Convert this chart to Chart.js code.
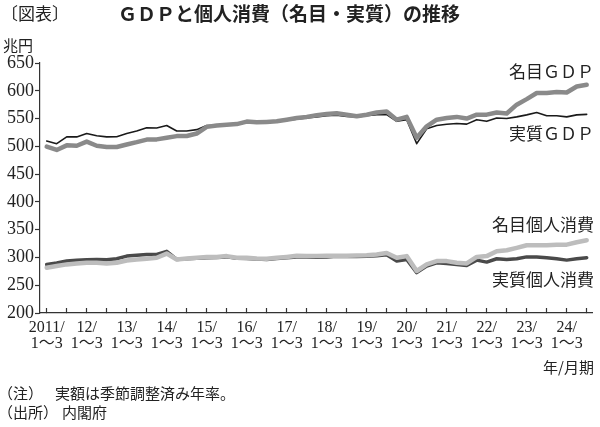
<!DOCTYPE html>
<html>
<head>
<meta charset="utf-8">
<script src="https://cdn.jsdelivr.net/npm/chart.js@4"></script>
<style>
  body { margin: 0; background: #fff; }
  canvas { display: block; }
</style>
</head>
<body>
<canvas id="gdp-chart" width="600" height="427"></canvas>
<script>
// 2011年1~3月期 ～ 2024年7~9月期 (四半期, 兆円, 季節調整済み年率)
var years = ["2011/", "12/", "13/", "14/", "15/", "16/", "17/", "18/", "19/", "20/", "21/", "22/", "23/", "24/"];
var quarterLabel = "1\u301C3";

var nominalGdp = [499.5, 493.5, 501.8, 501, 508.5, 501, 498.8, 498.8, 503.3, 507.5, 512.2, 512.5,
  515.3, 518.4, 518.6, 523, 535, 537.5, 539, 540, 544.6, 543.3, 544, 545, 548, 551,
  553, 556, 558, 559.5, 557, 554, 557, 561, 562.5, 548, 553, 515.5, 536, 548,
  551, 553, 550, 557, 557, 561, 559, 575, 585, 596, 596, 597.6, 597, 607.7, 610.7];

var realGdp = [509.5, 504.8, 517, 517, 523, 519, 517, 517.3, 523, 527.5, 533.3, 533,
  537.5, 527.5, 527.5, 530, 537.5, 538, 538.5, 539, 543, 542, 543, 544, 547, 549,
  551, 553, 555, 556, 554, 553, 555, 557, 557, 545, 548, 504.8, 531.6, 537.5,
  539.8, 541, 540, 548, 545, 551, 550, 553, 556.6, 561, 555, 555, 553, 556.6, 557.6];

var nominalCons = [281.6, 284.5, 287.5, 289, 290.5, 290.5, 289.3, 290.5, 294.6, 296.4, 297.6, 299.4,
  307, 296.4, 298, 299.4, 300.6, 301, 302.4, 299.4, 299.4, 298, 297.6, 299.4, 301, 303,
  302.4, 302.4, 303, 303, 303, 303.5, 304, 305.4, 308, 299.4, 302.4, 275.6, 287.5, 293.4,
  293.4, 290.5, 289.3, 301, 302.4, 311, 313, 317.3, 322, 322, 322, 323, 323, 327.4, 331];

var realCons = [287.5, 290, 293.5, 295, 296, 296.5, 296, 297.6, 302.4, 304, 305.4, 305.4,
  311, 296.4, 297.5, 298.5, 299.5, 300, 301, 298.5, 298, 297, 296.5, 298, 299.5, 301,
  301, 300.5, 301, 302, 301.5, 301.5, 302, 303, 305, 293.4, 296.4, 272.7, 284.5, 290.5,
  289.3, 287.5, 285.7, 295.2, 291.6, 297.6, 296.4, 297.6, 301, 301, 299.4, 297.6, 295.2, 297.6, 299.4];

var yTicks = [200, 250, 300, 350, 400, 450, 500, 550, 600, 650];

var serif = '"Liberation Serif", "Noto Sans CJK JP", serif';
var jp = '"Noto Sans CJK JP", sans-serif';

var textPlugin = {
  id: 'texts',
  afterDraw: function(chart) {
    var ctx = chart.ctx;
    ctx.save();
    ctx.fillStyle = '#222';
    ctx.textBaseline = 'middle';
    ctx.textAlign = 'left';
    ctx.font = '17px ' + jp;
    ctx.fillText('〔図表〕', 1, 14);
    ctx.font = 'bold 19px ' + jp;
    ctx.fillText('ＧＤＰと個人消費（名目・実質）の推移', 118, 14);
    ctx.font = '15px ' + jp;
    ctx.fillText('兆円', 3, 45);

    ctx.font = '17px ' + jp;
    ctx.textAlign = 'right';
    ctx.fillText('名目ＧＤＰ', 594, 72);
    ctx.fillText('実質ＧＤＰ', 594, 134);
    ctx.fillText('名目個人消費', 594, 225);
    ctx.fillText('実質個人消費', 594, 280);

    ctx.font = '15px ' + jp;
    ctx.fillText('年/月期', 594, 367);
    ctx.textAlign = 'left';
    ctx.fillText('（注）', -2, 393);
    ctx.fillText('実額は季節調整済み年率。', 55, 393);
    ctx.fillText('（出所）', -2, 412);
    ctx.fillText('内閣府', 62, 412);
    ctx.restore();
  }
};

var ctx = document.getElementById('gdp-chart').getContext('2d');
var chart = new Chart(ctx, {
  type: 'line',
  data: {
    labels: nominalGdp.map(function(_, i) { return i; }),
    datasets: [
      { label: '名目GDP', data: nominalGdp, borderColor: '#8a8a8a', borderWidth: 4.5, order: 1 },
      { label: '実質GDP', data: realGdp, borderColor: '#1a1a1a', borderWidth: 1.6, order: 2 },
      { label: '名目個人消費', data: nominalCons, borderColor: '#bdbdbd', borderWidth: 4.5, order: 1 },
      { label: '実質個人消費', data: realCons, borderColor: '#4a4a4a', borderWidth: 3.5, order: 2 }
    ]
  },
  options: {
    responsive: false,
    animation: false,
    events: [],
    layout: { padding: { top: 63, right: 8, bottom: 0, left: 0 } },
    elements: {
      point: { radius: 0 },
      line: { tension: 0, borderJoinStyle: 'round', borderCapStyle: 'round' }
    },
    plugins: {
      legend: { display: false },
      title: { display: false },
      tooltip: { enabled: false }
    },
    scales: {
      x: {
        type: 'linear',
        min: -0.67,
        max: 54.53,
        afterBuildTicks: function(scale) {
          scale.ticks = nominalGdp.map(function(_, i) { return i; })
            .filter(function(i) { return i % 2 === 0; })
            .map(function(i) { return { value: i }; });
        },
        afterFit: function(scale) { scale.height = 114; },
        border: { display: true, color: '#333', width: 1.2 },
        grid: { drawOnChartArea: false, drawTicks: true, tickLength: -5, color: '#333', tickWidth: 1.2 },
        ticks: {
          autoSkip: false,
          maxRotation: 0,
          padding: 12,
          color: '#222',
          font: { family: serif, size: 16, lineHeight: 1.0 },
          callback: function(value) {
            if (value % 4 !== 0) return '';
            return [years[value / 4], quarterLabel];
          }
        }
      },
      y: {
        min: yTicks[0],
        max: yTicks[yTicks.length - 1],
        afterBuildTicks: function(scale) {
          scale.ticks = yTicks.map(function(v) { return { value: v }; });
        },
        afterFit: function(scale) { scale.width = 40; },
        border: { display: true, color: '#333', width: 1.2 },
        grid: { drawOnChartArea: false, drawTicks: true, tickLength: 5, color: '#333', tickWidth: 1.2 },
        ticks: {
          padding: 1,
          color: '#222',
          font: { family: serif, size: 18 }
        }
      }
    }
  },
  plugins: [textPlugin]
});
</script>
</body>
</html>
